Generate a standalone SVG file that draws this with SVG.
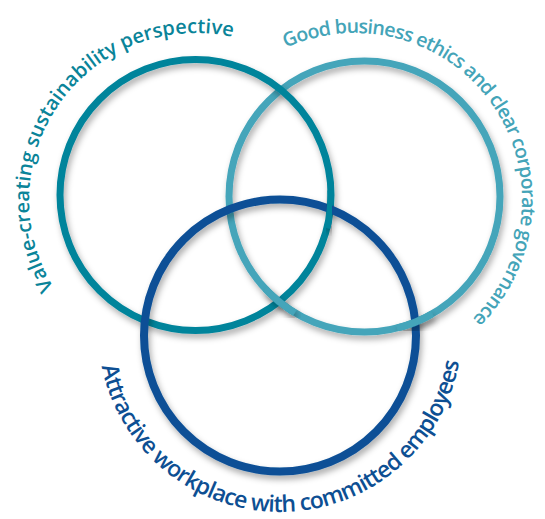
<svg xmlns="http://www.w3.org/2000/svg" width="545" height="519" viewBox="0 0 545 519">
  <defs>
    <filter id="sh" x="-20%" y="-20%" width="140%" height="140%">
      <feDropShadow dx="2" dy="4" stdDeviation="3" flood-color="#000" flood-opacity="0.33"/>
    </filter>
    <path id="p1" d="M 165.57 364.20 A 167 167 0 1 1 341.35 117.77"/>
    <path id="p2" d="M 210.96 115.49 A 167 167 0 1 1 382.85 364.66"/>
    <path id="p3" d="M 114.19 254.94 A 182 182 0 1 0 444.07 251.21"/>
  </defs>
  <style>
    .ring { fill: none; filter: url(#sh); }
    .c1 { stroke: #00849B; stroke-width: 7; }
    .c2 { stroke: #45A5BA; stroke-width: 7; }
    .c3 { stroke: #0A4F96; stroke-width: 8; }
    .lbl { font-family: "Open Sans", "Noto Sans", "DejaVu Sans", sans-serif; font-weight: 600; }
  </style>
  <rect width="545" height="519" fill="#ffffff"/>
  <g id="circles">
    <g id="circle-governance"><circle class="ring c2" cx="364.5" cy="196.5" r="135.5"/></g>
    <g id="circle-sustainability"><circle class="ring c1" cx="195.5" cy="195" r="135.5"/></g>
    <g id="circle-workplace"><circle class="ring c3" cx="280" cy="335.5" r="136"/></g>
    <g id="weave">
      <path class="ring c2" d="M 294.72 312.65 A 135.5 135.5 0 0 1 265.4 288.9"/>
      <path class="ring c1" d="M 330.92 190.27 A 135.5 135.5 0 0 1 326.97 227.78"/>
      <path class="ring c2" d="M 432.25 313.85 A 135.5 135.5 0 0 1 397.28 327.97"/>
    </g>
  </g>
  <g id="label-sustainability">
    <text class="lbl" font-size="20" fill="#0A8499"><textPath href="#p1" startOffset="50%" text-anchor="middle">Value-creating sustainability perspective</textPath></text>
  </g>
  <g id="label-governance">
    <text class="lbl" font-size="19.5" letter-spacing="-0.75" fill="#44A4B8"><textPath href="#p2" startOffset="50%" text-anchor="middle">Good business ethics and clear corporate governance</textPath></text>
  </g>
  <g id="label-workplace">
    <text class="lbl" font-size="23" letter-spacing="-0.8" fill="#0D4F93"><textPath href="#p3" startOffset="50%" text-anchor="middle">Attractive workplace with committed employees</textPath></text>
  </g>
</svg>
